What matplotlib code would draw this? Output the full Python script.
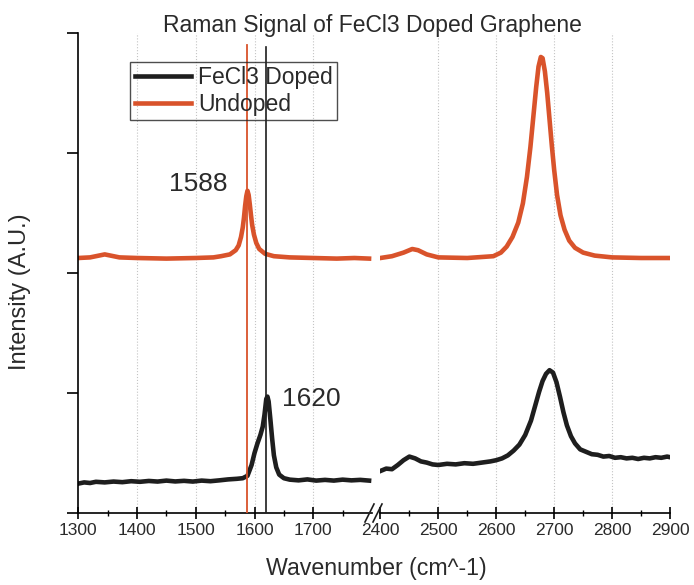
import matplotlib
matplotlib.use("Agg")
from matplotlib import pyplot as plt
from matplotlib.lines import Line2D

plt.rcParams["font.family"] = ["Liberation Sans", "DejaVu Sans"]

# G-band positions (cm^-1)
G_UNDOPED = 1588
G_DOPED = 1620

# undoped spectrum, D/G region
undoped_g_x = [1300, 1320, 1335, 1345, 1355, 1370, 1400, 1450, 1500, 1530, 1543, 1558,
               1568, 1573, 1577, 1580, 1582, 1584, 1586, 1588, 1590, 1592, 1594, 1596,
               1599, 1603, 1608, 1618, 1633, 1660, 1700, 1740, 1770, 1795]
undoped_g_y = [2.125, 2.13, 2.145, 2.155, 2.145, 2.13, 2.125, 2.12, 2.125, 2.13, 2.14, 2.155,
               2.19, 2.23, 2.30, 2.38, 2.46, 2.56, 2.64, 2.685, 2.65, 2.57, 2.48, 2.40,
               2.32, 2.25, 2.20, 2.16, 2.14, 2.13, 2.125, 2.12, 2.125, 2.12]

# undoped spectrum, 2D region
undoped_2d_x = [2400, 2420, 2440, 2455, 2465, 2480, 2500, 2550, 2595, 2608, 2618, 2628,
                2638, 2646, 2653, 2659, 2664, 2669, 2673, 2677, 2680, 2684, 2688, 2692,
                2696, 2700, 2705, 2711, 2718, 2726, 2736, 2750, 2770, 2800, 2850, 2900]
undoped_2d_y = [2.125, 2.14, 2.17, 2.20, 2.19, 2.155, 2.13, 2.125, 2.14, 2.17, 2.22, 2.30,
                2.42, 2.58, 2.80, 3.05, 3.30, 3.55, 3.72, 3.80, 3.79, 3.68, 3.50, 3.28,
                3.06, 2.86, 2.65, 2.48, 2.36, 2.27, 2.21, 2.17, 2.145, 2.13, 2.125, 2.125]

# FeCl3 doped spectrum, D/G region
doped_g_x = [1300, 1310, 1320, 1330, 1345, 1360, 1375, 1390, 1405, 1420, 1435, 1450,
             1465, 1480, 1495, 1510, 1525, 1540, 1555, 1570, 1580, 1588, 1595, 1600,
             1605, 1610, 1614, 1617, 1620, 1622, 1624, 1627, 1630, 1633, 1637, 1642,
             1650, 1660, 1675, 1690, 1705, 1720, 1735, 1750, 1765, 1780, 1795]
doped_g_y = [0.245, 0.255, 0.25, 0.26, 0.255, 0.262, 0.257, 0.265, 0.26, 0.267, 0.262, 0.27,
             0.263, 0.268, 0.262, 0.27, 0.265, 0.272, 0.28, 0.285, 0.29, 0.31, 0.40, 0.50,
             0.58, 0.65, 0.72, 0.82, 0.95, 0.97, 0.93, 0.78, 0.62, 0.48, 0.38, 0.32,
             0.29, 0.278, 0.272, 0.28, 0.27, 0.276, 0.27, 0.278, 0.272, 0.276, 0.27]

# FeCl3 doped spectrum, 2D region
doped_2d_x = [2400, 2410, 2420, 2430, 2440, 2450, 2460, 2470, 2480, 2490, 2500, 2515,
              2530, 2545, 2560, 2575, 2590, 2600, 2610, 2620, 2630, 2640, 2650, 2660,
              2667, 2674, 2680, 2686, 2692, 2698, 2704, 2710, 2716, 2722, 2729, 2736,
              2745, 2755, 2765, 2775, 2785, 2795, 2805, 2815, 2825, 2835, 2845, 2855,
              2865, 2875, 2885, 2895, 2900]
doped_2d_y = [0.35, 0.37, 0.365, 0.40, 0.44, 0.47, 0.455, 0.43, 0.42, 0.405, 0.40, 0.41,
              0.405, 0.415, 0.41, 0.42, 0.43, 0.44, 0.455, 0.48, 0.52, 0.57, 0.65, 0.77,
              0.89, 1.01, 1.10, 1.16, 1.19, 1.17, 1.09, 0.97, 0.84, 0.73, 0.64, 0.58,
              0.53, 0.51, 0.49, 0.485, 0.47, 0.475, 0.46, 0.465, 0.455, 0.46, 0.45, 0.46,
              0.455, 0.465, 0.46, 0.47, 0.465]

ORANGE = "#d9532b"
BLACK = "#1e1e1e"
TEXT = "#2a2a2a"

W, H = 694, 585
fig = plt.figure(figsize=(W / 100, H / 100), dpi=100)


def px_rect(x0, y0, x1, y1):
    return [x0 / W, 1 - y1 / H, (x1 - x0) / W, (y1 - y0) / H]


ax1 = fig.add_axes(px_rect(78.3, 33, 372, 513))
ax2 = fig.add_axes(px_rect(380.4, 33, 670, 513))

for ax, xlim in ((ax1, (1300, 1800)), (ax2, (2400, 2900))):
    ax.set_xlim(*xlim)
    ax.set_ylim(0, 4)
    ax.set_xticks(range(xlim[0], xlim[1] + 1, 100))
    ax.set_xticks(range(xlim[0] + 50, xlim[1], 100), minor=True)
    for t in ax.get_xticks()[1:]:
        if t < xlim[1]:
            ax.axvline(t, color="#c4c4c4", lw=0.8, ls=":", zorder=0)
    ax.spines["top"].set_visible(False)
    ax.spines["right"].set_visible(False)
    ax.spines["bottom"].set_linewidth(1.2)
    ax.tick_params(axis="x", which="major", direction="inout", length=9, width=1.2,
                   pad=3, labelsize=12.5, labelcolor=TEXT)
    ax.tick_params(axis="x", which="minor", direction="inout", length=5, width=1.0)
    ax.patch.set_alpha(0)

ax1.set_xticks([1300, 1400, 1500, 1600, 1700])
ax1.spines["left"].set_linewidth(1.2)
ax1.set_yticks([0, 1, 2, 3, 4])
ax1.tick_params(axis="y", direction="out", length=8, width=1.2, labelleft=False)
ax2.spines["left"].set_visible(False)
ax2.tick_params(axis="y", left=False, labelleft=False)

LW = 3.3
ax1.plot(undoped_g_x, undoped_g_y, color=ORANGE, lw=LW, zorder=2)
ax2.plot(undoped_2d_x, undoped_2d_y, color=ORANGE, lw=LW, zorder=2)
ax1.plot(doped_g_x, doped_g_y, color=BLACK, lw=LW, zorder=2)
ax2.plot(doped_2d_x, doped_2d_y, color=BLACK, lw=LW, zorder=2)

ax1.axvline(G_UNDOPED, ymax=0.975, color=ORANGE, lw=1.3, zorder=3)
ax1.axvline(G_DOPED, ymax=0.97, color=BLACK, lw=1.2, zorder=3)

ax1.text(1504, 2.74, str(G_UNDOPED), fontsize=19, color=TEXT, ha="center", va="center")
ax1.text(1696, 0.95, str(G_DOPED), fontsize=19, color=TEXT, ha="center", va="center")

handles = [Line2D([], [], color=BLACK, lw=LW), Line2D([], [], color=ORANGE, lw=LW)]
leg = ax1.legend(handles, ["FeCl3 Doped", "Undoped"], loc="upper left",
                 bbox_to_anchor=(0.177, 0.94), borderaxespad=0, fontsize=16.5,
                 frameon=True, fancybox=False, handlelength=2.45, handletextpad=0.3,
                 borderpad=0.2, labelspacing=0.15, labelcolor=TEXT)
frame = leg.get_frame()
frame.set_facecolor("none")
frame.set_edgecolor("#222222")
frame.set_linewidth(1.0)

# break marks on the x-axis
for x0 in (365, 373):
    fig.add_artist(Line2D([x0 / W, (x0 + 9) / W], [1 - 522 / H, 1 - 504 / H],
                          transform=fig.transFigure, color=BLACK, lw=1.2))

fig.text(372.5 / W, 1 - 32 / H, "Raman Signal of FeCl3 Doped Graphene", fontsize=16.5,
         color=TEXT, ha="center", va="baseline")
fig.text(376 / W, 1 - 568 / H, "Wavenumber (cm^-1)", fontsize=16.7, color=TEXT,
         ha="center", va="center")
fig.text(20 / W, 1 - 292 / H, "Intensity (A.U.)", fontsize=17, color=TEXT,
         ha="center", va="center", rotation=90)

fig.savefig("out.png", dpi=100)
